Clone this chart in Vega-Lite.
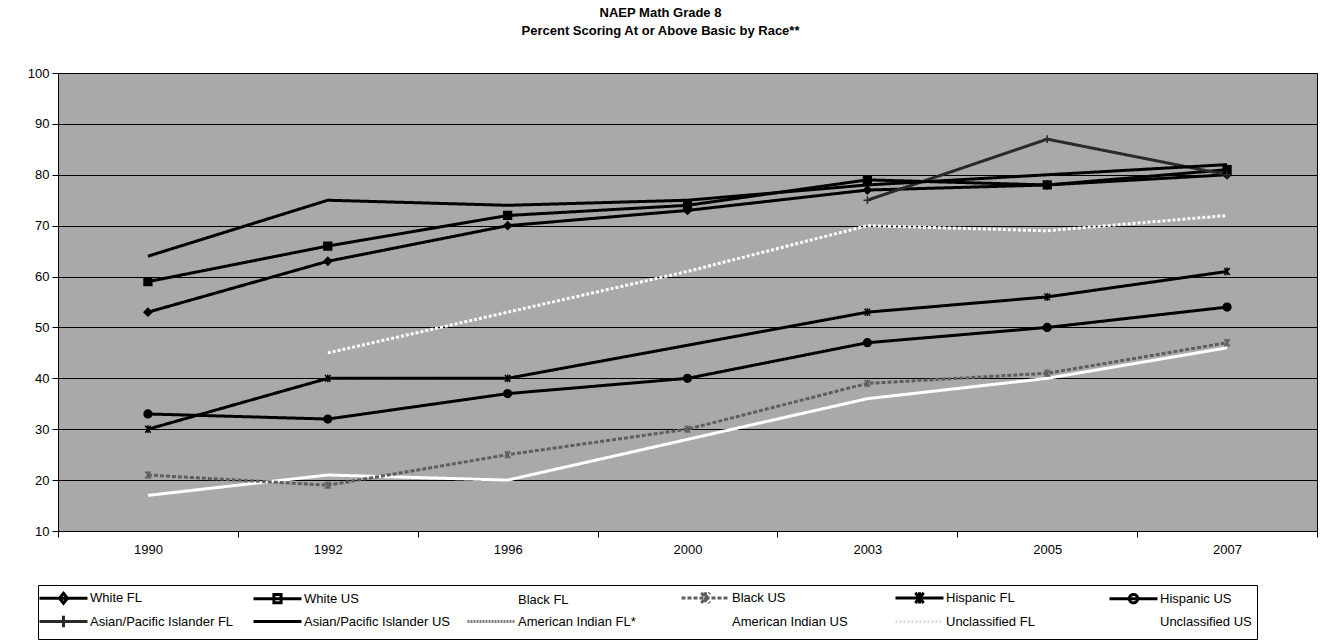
{
  "$schema": "https://vega.github.io/schema/vega-lite/v6.json",
  "width": 1259,
  "height": 458,
  "autosize": {"type": "none"},
  "padding": {"left": 58, "top": 73, "right": 11, "bottom": 112},
  "background": "white",
  "title": {
    "text": ["NAEP Math Grade 8", "Percent Scoring At or Above Basic by Race**"],
    "font": "Liberation Sans",
    "fontSize": 13,
    "fontWeight": "bold",
    "color": "black",
    "anchor": "middle",
    "dx": -27,
    "offset": 29,
    "lineHeight": 18
  },
  "config": {
    "view": {"stroke": "black", "strokeWidth": 1, "fill": "#a9a9a9"},
    "axis": {
      "labelFont": "Liberation Sans",
      "labelFontSize": 13,
      "labelColor": "black",
      "domainColor": "black",
      "tickColor": "black",
      "titleFont": "Liberation Sans"
    }
  },
  "data": {
    "values": [
      {"series": "White FL", "year": "1990", "value": 53},
      {"series": "White FL", "year": "1992", "value": 63},
      {"series": "White FL", "year": "1996", "value": 70},
      {"series": "White FL", "year": "2000", "value": 73},
      {"series": "White FL", "year": "2003", "value": 77},
      {"series": "White FL", "year": "2005", "value": 78},
      {"series": "White FL", "year": "2007", "value": 80},
      {"series": "White US", "year": "1990", "value": 59},
      {"series": "White US", "year": "1992", "value": 66},
      {"series": "White US", "year": "1996", "value": 72},
      {"series": "White US", "year": "2000", "value": 74},
      {"series": "White US", "year": "2003", "value": 79},
      {"series": "White US", "year": "2005", "value": 78},
      {"series": "White US", "year": "2007", "value": 81},
      {"series": "Black FL", "year": "1990", "value": 17},
      {"series": "Black FL", "year": "1992", "value": 21},
      {"series": "Black FL", "year": "1996", "value": 20},
      {"series": "Black FL", "year": "2000", "value": 28},
      {"series": "Black FL", "year": "2003", "value": 36},
      {"series": "Black FL", "year": "2005", "value": 40},
      {"series": "Black FL", "year": "2007", "value": 46},
      {"series": "Black US", "year": "1990", "value": 21},
      {"series": "Black US", "year": "1992", "value": 19},
      {"series": "Black US", "year": "1996", "value": 25},
      {"series": "Black US", "year": "2000", "value": 30},
      {"series": "Black US", "year": "2003", "value": 39},
      {"series": "Black US", "year": "2005", "value": 41},
      {"series": "Black US", "year": "2007", "value": 47},
      {"series": "Hispanic FL", "year": "1990", "value": 30},
      {"series": "Hispanic FL", "year": "1992", "value": 40},
      {"series": "Hispanic FL", "year": "1996", "value": 40},
      {"series": "Hispanic FL", "year": "2003", "value": 53},
      {"series": "Hispanic FL", "year": "2005", "value": 56},
      {"series": "Hispanic FL", "year": "2007", "value": 61},
      {"series": "Hispanic US", "year": "1990", "value": 33},
      {"series": "Hispanic US", "year": "1992", "value": 32},
      {"series": "Hispanic US", "year": "1996", "value": 37},
      {"series": "Hispanic US", "year": "2000", "value": 40},
      {"series": "Hispanic US", "year": "2003", "value": 47},
      {"series": "Hispanic US", "year": "2005", "value": 50},
      {"series": "Hispanic US", "year": "2007", "value": 54},
      {"series": "Asian/Pacific Islander FL", "year": "2003", "value": 75},
      {"series": "Asian/Pacific Islander FL", "year": "2005", "value": 87},
      {"series": "Asian/Pacific Islander FL", "year": "2007", "value": 80},
      {"series": "Asian/Pacific Islander US", "year": "1990", "value": 64},
      {"series": "Asian/Pacific Islander US", "year": "1992", "value": 75},
      {"series": "Asian/Pacific Islander US", "year": "1996", "value": 74},
      {"series": "Asian/Pacific Islander US", "year": "2000", "value": 75},
      {"series": "Asian/Pacific Islander US", "year": "2003", "value": 78},
      {"series": "Asian/Pacific Islander US", "year": "2005", "value": 80},
      {"series": "Asian/Pacific Islander US", "year": "2007", "value": 82},
      {"series": "American Indian US", "year": "1992", "value": 45},
      {"series": "American Indian US", "year": "1996", "value": 53},
      {"series": "American Indian US", "year": "2000", "value": 61},
      {"series": "American Indian US", "year": "2003", "value": 70},
      {"series": "American Indian US", "year": "2005", "value": 69},
      {"series": "American Indian US", "year": "2007", "value": 72}
    ]
  },
  "encoding": {
    "x": {
      "field": "year",
      "type": "ordinal",
      "scale": {"domain": ["1990", "1992", "1996", "2000", "2003", "2005", "2007"], "paddingInner": 0, "paddingOuter": 0},
      "axis": {"title": null, "labelAngle": 0, "tickBand": "extent", "tickSize": 6, "labelPadding": 6, "grid": false}
    },
    "y": {
      "field": "value",
      "type": "quantitative",
      "scale": {"domain": [10, 100], "nice": false, "zero": false},
      "axis": {"title": null, "values": [10, 20, 30, 40, 50, 60, 70, 80, 90, 100], "tickSize": 6, "labelPadding": 3, "grid": true, "gridColor": "black", "gridWidth": 1, "gridOpacity": 1}
    }
  },
  "layer": [
    {
      "mark": {"type": "line", "strokeCap": "butt", "strokeJoin": "round"},
      "encoding": {
        "color": {
          "field": "series",
          "type": "nominal",
          "scale": {
            "domain": ["White FL", "White US", "Black FL", "Black US", "Hispanic FL", "Hispanic US", "Asian/Pacific Islander FL", "Asian/Pacific Islander US", "American Indian FL*", "American Indian US", "Unclassified FL", "Unclassified US"],
            "range": ["#000000", "#000000", "#ffffff", "#5e5e5e", "#000000", "#000000", "#2a2a2a", "#000000", "#7a7a7a", "#ffffff", "#dddddd", "#ffffff"]
          },
          "legend": {
            "title": null,
            "orient": "none",
            "legendX": -20,
            "legendY": 512,
            "direction": "horizontal",
            "columns": 6,
            "gridAlign": "all",
            "columnPadding": 11,
            "rowPadding": -1,
            "padding": 5,
            "strokeColor": "black",
            "fillColor": "white",
            "labelFont": "Liberation Sans",
            "labelFontSize": 13,
            "labelColor": "black",
            "labelOffset": 19,
            "labelLimit": 300,
            "symbolType": "stroke",
            "symbolSize": 144,
            "symbolOffset": 13,
            "symbolStrokeWidth": 3,
            "encode": {
              "symbols": {
                "update": {
                  "shape": {
                    "signal": "datum.value === 'White FL' ? 'M-4,0H4M0,-0.83L0.67,0L0,0.83L-0.67,0Z' : datum.value === 'White US' ? 'M-4,0H4M-0.6,-0.7H0.6V0.7H-0.6Z' : (datum.value === 'Black US' || datum.value === 'Hispanic FL') ? 'M-4,0H4M-0.7,-0.85L0.7,0.85M-0.7,0.85L0.7,-0.85M0,-0.95V0.95' : datum.value === 'Hispanic US' ? 'M-4,0H4M-0.7,0A0.7,0.7 0 1,0 0.7,0A0.7,0.7 0 1,0 -0.7,0Z' : datum.value === 'Asian/Pacific Islander FL' ? 'M-4,0H4M0,-0.95V0.95' : 'M-4,0H4'"
                  }
                }
              }
            }
          }
        },
        "strokeDash": {
          "field": "series",
          "type": "nominal",
          "scale": {
            "domain": ["White FL", "White US", "Black FL", "Black US", "Hispanic FL", "Hispanic US", "Asian/Pacific Islander FL", "Asian/Pacific Islander US", "American Indian FL*", "American Indian US", "Unclassified FL", "Unclassified US"],
            "range": [[1, 0], [1, 0], [1, 0], [4, 2], [1, 0], [1, 0], [1, 0], [1, 0], [2, 1], [3, 2], [2, 2], [1, 0]]
          }
        },
        "strokeWidth": {
          "field": "series",
          "type": "nominal",
          "scale": {
            "domain": ["White FL", "White US", "Black FL", "Black US", "Hispanic FL", "Hispanic US", "Asian/Pacific Islander FL", "Asian/Pacific Islander US", "American Indian FL*", "American Indian US", "Unclassified FL", "Unclassified US"],
            "range": [3, 3, 3, 2.5, 3, 3.5, 2.5, 3.5, 2.5, 3, 2.5, 3]
          }
        }
      }
    },
    {
      "transform": [
        {"filter": {"field": "series", "oneOf": ["White FL", "White US", "Black US", "Hispanic FL", "Hispanic US", "Asian/Pacific Islander FL"]}}
      ],
      "mark": {"type": "point", "filled": true, "size": 60, "strokeWidth": 1.5, "opacity": 1},
      "encoding": {
        "fill": {
          "field": "series",
          "type": "nominal",
          "scale": {
            "domain": ["White FL", "White US", "Black US", "Hispanic FL", "Hispanic US", "Asian/Pacific Islander FL"],
            "range": ["#000000", "#000000", "#5e5e5e", "#000000", "#000000", "#2a2a2a"]
          },
          "legend": null
        },
        "stroke": {
          "field": "series",
          "type": "nominal",
          "scale": {
            "domain": ["White FL", "White US", "Black US", "Hispanic FL", "Hispanic US", "Asian/Pacific Islander FL"],
            "range": ["#000000", "#000000", "#5e5e5e", "#000000", "#000000", "#2a2a2a"]
          },
          "legend": null
        },
        "shape": {
          "field": "series",
          "type": "nominal",
          "scale": {
            "domain": ["White FL", "White US", "Black US", "Hispanic FL", "Hispanic US", "Asian/Pacific Islander FL"],
            "range": ["diamond", "square", "M-0.7,-0.9L0.7,0.9M-0.7,0.9L0.7,-0.9M0,-1V1", "M-0.7,-0.9L0.7,0.9M-0.7,0.9L0.7,-0.9M0,-1V1", "circle", "M0,-1V1M-1,0H1"]
          },
          "legend": null
        }
      }
    }
  ]
}
